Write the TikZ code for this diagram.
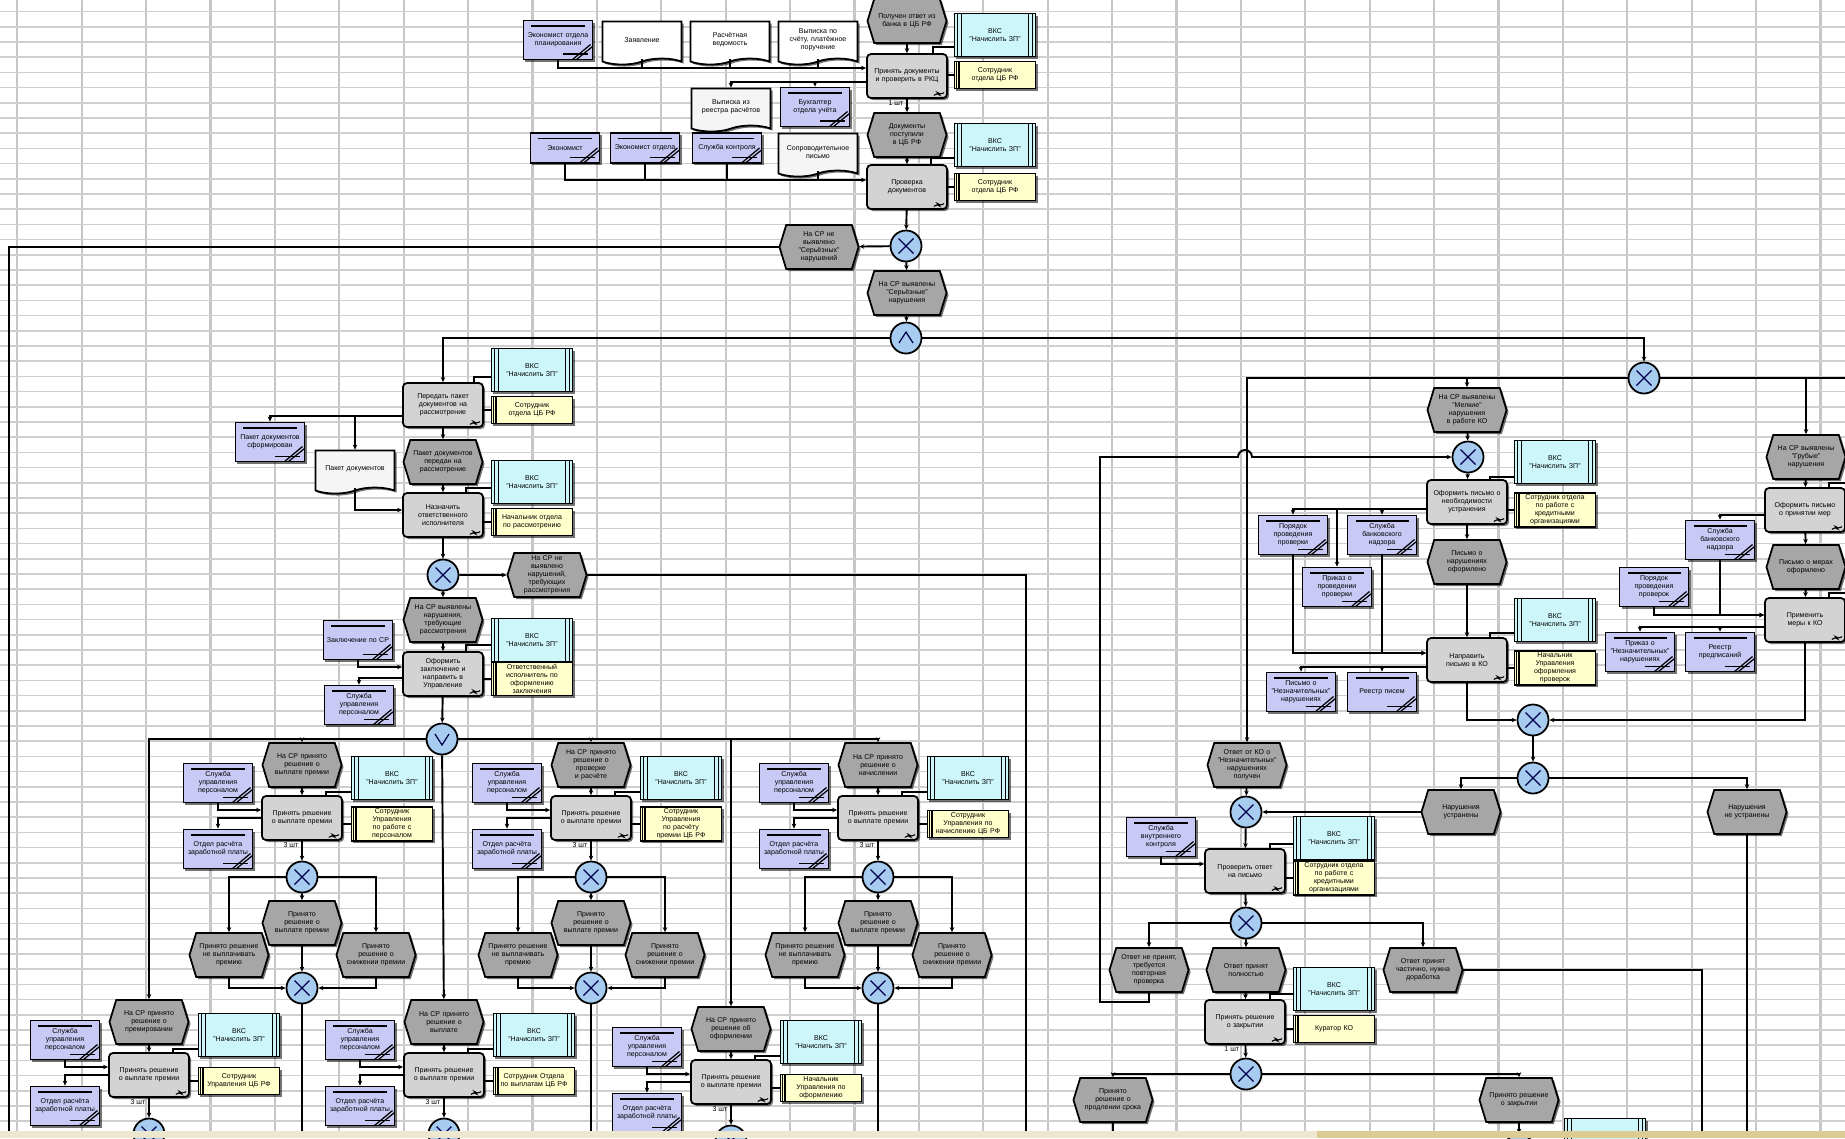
\documentclass[tikz,border=0pt]{standalone}
\usepackage{fontspec}
\setmainfont{Liberation Sans}
\usetikzlibrary{shapes.symbols,arrows.meta,shadows}

\definecolor{evgray}{HTML}{A6A6A6}
\definecolor{fngray}{HTML}{D3D3D3}
\definecolor{syscyan}{HTML}{CCF6FA}
\definecolor{noteyel}{HTML}{FFFFCC}
\definecolor{rolelav}{HTML}{C9C9F5}
\definecolor{gateblue}{HTML}{A8CCF0}
\definecolor{gridgray}{HTML}{C6C6C6}
\definecolor{barlight}{HTML}{EEE7CF}
\definecolor{bartan}{HTML}{DCCB92}
\newcommand{\aristxt}{\fontsize{2}{2.3}\selectfont}

% top half of a decision block: event, function, system, note, two roles, xor
\newcommand{\unittop}[5]{%
  \node[ev] (#1e) at ({#2},{#3+22}) {#4};
  \node[sys] (#1s) at ({#2+90},{#3+35}) {ВКС "Начислить ЗП"};
  \node[fn,label={[cnt]-95:3 шт}] (#1f) at ({#2},{#3+75}) {Принять решение о выплате премии};
  \node[notebox] (#1n) at ({#2+90},{#3+81}) {#5};
  \node[role] (#1p) at ({#2-84},{#3+40}) {Служба управления персоналом};
  \node[role] (#1q) at ({#2-84},{#3+106}) {Отдел расчёта заработной платы};
  \node[xorg] (#1x) at ({#2},{#3+134}) {};
  \draw[conn] (#1e) -- (#1f);
  \draw[ln] ([yshift=-0.14cm]#1s.west) -| ([xshift=-0.17cm]#1f.north east);
  \draw[ln] (#1n.west) -- (#1n.west -| #1f.east);
  \draw[conn] (#1p.south) |- ([yshift=0.08cm]#1f.west);
  \draw[conn] (#1f.west) -| (#1q.north);
  \draw[conn] (#1f) -- (#1x);
}
% full block with the three outcomes
\newcommand{\upperunit}[5]{%
  \unittop{#1}{#2}{#3}{#4}{#5}
  \node[ev] (#1a) at ({#2},{#3+180}) {Принято решение о выплате премии};
  \node[ev] (#1b) at ({#2-73},{#3+212}) {Принято решение не выплачивать премию};
  \node[ev] (#1c) at ({#2+74},{#3+212}) {Принято решение о снижении премии};
  \node[xorg] (#1y) at ({#2},{#3+245}) {};
  \draw[conn] (#1x) -- (#1a);
  \draw[conn] (#1x.west) -| (#1b.north);
  \draw[conn] (#1x.east) -| (#1c.north);
  \draw[conn] (#1a) -- (#1y);
  \draw[conn] (#1b.south) |- (#1y.west);
  \draw[conn] (#1c.south) |- (#1y.east);
  \draw[ln] (#1y.south) -- (#1y.south |- bot);
}

\begin{document}
\begin{tikzpicture}[x=0.01cm,y=-0.01cm,
  vline/.style={gridgray,line width=0.6pt},
  hline/.style={gridgray!85,line width=0.45pt},
  ln/.style={line width=0.55pt},
  conn/.style={ln,-{Stealth[length=0.05cm,width=0.045cm]}},
  objbox/.style={draw,line width=0.5pt,font=\aristxt,align=center,inner sep=0.5pt,
    drop shadow={shadow xshift=0.02cm,shadow yshift=-0.02cm,fill=black,opacity=0.55}},
  ev/.style={objbox,signal,signal to=east and west,signal pointer angle=146,fill=evgray,
    minimum width=0.79cm,minimum height=0.44cm,text width=0.6cm},
  fn/.style={objbox,rectangle,rounded corners=0.04cm,fill=fngray,minimum width=0.8cm,
    minimum height=0.44cm,text width=0.7cm,
    path picture={\draw[line width=0.3pt] ([shift={(-0.13cm,0.025cm)}]path picture bounding box.south east)
      -- ++(0.03cm,0.035cm) -- ++(0.03cm,-0.035cm) -- ++(0.04cm,0.03cm);}},
  sys/.style={objbox,rectangle,fill=syscyan,minimum width=0.81cm,minimum height=0.43cm,text width=0.62cm,
    path picture={\foreach \dx in {0.03cm,0.07cm}{
      \draw[line width=0.35pt] ([xshift=\dx]path picture bounding box.north west) -- ([xshift=\dx]path picture bounding box.south west);
      \draw[line width=0.35pt] ([xshift=-\dx]path picture bounding box.north east) -- ([xshift=-\dx]path picture bounding box.south east);}}},
  notebox/.style={objbox,rectangle,fill=noteyel,minimum width=0.81cm,minimum height=0.27cm,text width=0.7cm,
    path picture={\foreach \dx in {0.02cm,0.045cm}
      \draw[line width=0.35pt] ([xshift=\dx]path picture bounding box.north west) -- ([xshift=\dx]path picture bounding box.south west);}},
  role/.style={objbox,rectangle,fill=rolelav,minimum width=0.69cm,minimum height=0.39cm,text width=0.64cm,
    path picture={
      \draw[line width=0.3pt] ([shift={(0.08cm,-0.055cm)}]path picture bounding box.north west) -- ([shift={(-0.08cm,-0.055cm)}]path picture bounding box.north east);
      \draw[line width=0.3pt] ([shift={(-0.3cm,0.055cm)}]path picture bounding box.south east) -- ([shift={(-0.05cm,0.055cm)}]path picture bounding box.south east);
      \draw[line width=0.35pt] ([shift={(-0.2cm,0cm)}]path picture bounding box.south east) -- ([shift={(-0.02cm,0.15cm)}]path picture bounding box.south east);
      \draw[line width=0.35pt] ([shift={(-0.16cm,0cm)}]path picture bounding box.south east) -- ([shift={(0cm,0.13cm)}]path picture bounding box.south east);}},
  doc/.style={objbox,tape,tape bend top=none,tape bend height=0.06cm,fill=white,
    minimum width=0.79cm,minimum height=0.43cm,text width=0.66cm},
  gate/.style={draw,circle,fill=gateblue,minimum size=0.31cm,inner sep=0pt,line width=0.5pt},
  xorg/.style={gate,path picture={\draw[line width=0.35pt,blue!30!black]
      ([shift={(-0.075cm,-0.075cm)}]path picture bounding box.center) -- ([shift={(0.075cm,0.075cm)}]path picture bounding box.center)
      ([shift={(-0.075cm,0.075cm)}]path picture bounding box.center) -- ([shift={(0.075cm,-0.075cm)}]path picture bounding box.center);}},
  andg/.style={gate,path picture={\draw[line width=0.35pt,blue!30!black]
      ([shift={(-0.07cm,-0.05cm)}]path picture bounding box.center) -- ([shift={(0cm,0.06cm)}]path picture bounding box.center)
      -- ([shift={(0.07cm,-0.05cm)}]path picture bounding box.center);}},
  org/.style={gate,path picture={\draw[line width=0.35pt,blue!30!black]
      ([shift={(-0.07cm,0.05cm)}]path picture bounding box.center) -- ([shift={(0cm,-0.06cm)}]path picture bounding box.center)
      -- ([shift={(0.07cm,0.05cm)}]path picture bounding box.center);}},
  cnt/.style={font=\aristxt,inner sep=0.3pt}]

\clip (0,0) rectangle (1845,1138);
\fill[white] (0,0) rectangle (1845,1138);
% sheet grid
\foreach \i in {0,...,28}
  \draw[vline] ({17.3+64.4*\i},0) -- ({17.3+64.4*\i},1138);
\foreach \j in {0,...,74}
  \draw[hline] (0,{11.6+15.2*\j}) -- (1845,{11.6+15.2*\j});

\coordinate (bot) at (0,1138);
\coordinate (t1) at (0,68);
\coordinate (t2) at (0,82);
\coordinate (t3) at (0,180);
\coordinate (lft) at (9,1138);
\coordinate (bm1) at (1026,1138);
\coordinate (lp) at (1100,1002);
\coordinate (hop) at (1238,457);
\coordinate (redge) at (1846,378);
\coordinate (rs1) at (1846,483);
\coordinate (rs2) at (1846,593);
\coordinate (b3) at (1702,1138);

% top block
\node[ev] (e0) at (907,21) {Получен ответ из банка в ЦБ РФ};
\node[role] (p0) at (558,40) {Экономист отдела планирования};
\node[doc] (d1) at (642,40) {Заявление};
\node[doc] (d2) at (730,40) {Расчётная ведомость};
\node[doc] (d3) at (818,40) {Выписка по счёту, платёжное поручение};
\node[sys] (s0) at (995,35) {ВКС "Начислить ЗП"};
\node[fn,label={[cnt]-95:1 шт}] (f1) at (907,76) {Принять документы и проверить в РКЦ};
\node[notebox] (n1) at (995,75) {Сотрудник отдела ЦБ РФ};
\node[doc,fill=gray!8] (d4) at (731,107) {Выписка из реестра расчётов};
\node[role] (p1) at (815,107) {Бухгалтер отдела учёта};
\node[ev] (e1) at (907,135) {Документы поступили в ЦБ РФ};
\node[sys] (s1) at (995,145) {ВКС "Начислить ЗП"};
\node[fn] (f2) at (907,187) {Проверка документов};
\node[notebox] (n2) at (995,187) {Сотрудник отдела ЦБ РФ};
\node[role,minimum height=0.3cm] (p2) at (565,148) {Экономист};
\node[role,minimum height=0.3cm] (p3) at (645,148) {Экономист отдела};
\node[role,minimum height=0.3cm] (p4) at (727,148) {Служба контроля};
\node[doc,fill=gray!8] (d5) at (818,152) {Сопроводительное письмо};

\draw[conn] (e0) -- (f1);
\draw[conn] (p0.south) |- ([yshift=0.08cm]f1.west);
\draw[ln] (d1.south) -- (d1.south |- t1);
\draw[ln] (d2.south) -- (d2.south |- t1);
\draw[ln] (d3.south) -- (d3.south |- t1);
\draw[ln] ([yshift=-0.12cm]s0.west) -| ([xshift=-0.15cm]f1.north east);
\draw[ln] (n1.west) -- (n1.west -| f1.east);
\draw[conn] ([yshift=-0.06cm]f1.west) -| (d4.north);
\draw[conn] (p1.north |- t2) -- (p1.north);
\draw[conn] (f1) -- (e1);
\draw[conn] (e1) -- (f2);
\draw[ln] ([yshift=-0.13cm]s1.west) -| ([xshift=-0.17cm]f2.north east);
\draw[ln] (n2.west) -- (n2.west -| f2.east);
\draw[conn] (p2.south) |- ([yshift=0.07cm]f2.west);
\draw[ln] (p3.south) -- (p3.south |- t3);
\draw[ln] (p4.south) -- (p4.south |- t3);
\draw[ln] (d5.south) -- (d5.south |- t3);

\node[xorg] (x1) at (906,246) {};
\node[ev] (e2) at (819,247) {На СР не выявлено "Серьёзных" нарушений};
\node[ev] (e3) at (907,293) {На СР выявлены "Серьёзные" нарушения};
\node[andg] (a1) at (906,338) {};
\draw[conn] (f2) -- (x1);
\draw[conn] (x1) -- (e2);
\draw[ln] (e2.west) -| (lft);
\draw[conn] (x1) -- (e3);
\draw[conn] (e3) -- (a1);

% left column
\node[fn] (f3) at (443,405) {Передать пакет документов на рассмотрение};
\node[sys] (s3) at (532,370) {ВКС "Начислить ЗП"};
\node[notebox] (n3) at (532,410) {Сотрудник отдела ЦБ РФ};
\node[role] (p6) at (270,442) {Пакет документов сформирован};
\node[doc,fill=gray!8] (d6) at (355,469) {Пакет документов};
\node[ev] (e4) at (443,462) {Пакет документов передан на рассмотрение};
\node[sys] (s4) at (532,482) {ВКС "Начислить ЗП"};
\node[fn] (f4) at (443,515) {Назначить ответственного исполнителя};
\node[notebox] (n4) at (532,522) {Начальник отдела по рассмотрению};
\node[xorg] (x2) at (443,575) {};
\node[ev] (e5) at (547,575) {На СР не выявлено нарушений, требующих рассмотрения};
\node[ev] (e6) at (443,620) {На СР выявлены нарушения, требующие рассмотрения};
\node[role] (p7) at (358,640) {Заключение по СР};
\node[sys] (s5) at (532,640) {ВКС "Начислить ЗП"};
\node[fn] (f5) at (443,674) {Оформить заключение и направить в Управление};
\node[notebox] (n5) at (532,679) {Ответственный исполнитель по оформлению заключения};
\node[role] (p8) at (359,705) {Служба управления персоналом};
\node[org] (or1) at (442,739) {};

\draw[conn] (a1.west) -| (f3.north);
\draw[ln] ([yshift=-0.07cm]s3.west) -| ([xshift=-0.1cm]f3.north east);
\draw[ln] (n3.west) -- (n3.west -| f3.east);
\draw[conn] ([yshift=-0.11cm]f3.west) -| (p6.north);
\draw[conn] ([yshift=-0.11cm]f3.west) -| (d6.north);
\draw[conn] (f3) -- (e4);
\draw[conn] (e4) -- (f4);
\draw[ln] ([yshift=-0.06cm]s4.west) -| ([xshift=-0.18cm]f4.north east);
\draw[ln] (n4.west) -- (n4.west -| f4.east);
\draw[conn] (d6.south) |- ([yshift=0.05cm]f4.west);
\draw[conn] (f4) -- (x2);
\draw[conn] (x2) -- (e5);
\draw[ln] (e5.east) -| (bm1);
\draw[conn] (x2) -- (e6);
\draw[conn] (e6) -- (f5);
\draw[ln] ([yshift=-0.05cm]s5.west) -| ([xshift=-0.18cm]f5.north east);
\draw[ln] (n5.west) -- (n5.west -| f5.east);
\draw[conn] (p7.south) |- ([yshift=0.07cm]f5.west);
\draw[conn] ([yshift=-0.04cm]f5.west) -| (p8.north);
\draw[conn] (f5) -- (or1);

% decision blocks
\upperunit{u1}{302}{743}{На СР принято решение о выплате премии}{Сотрудник Управления по работе с персоналом}
\upperunit{u2}{591}{743}{На СР принято решение о проверке и расчёте}{Сотрудник Управления по расчёту премии ЦБ РФ}
\upperunit{u3}{878}{743}{На СР принято решение о начислении}{Сотрудник Управления по начислению ЦБ РФ}
\unittop{u4}{149}{1000}{На СР принято решение о премировании}{Сотрудник Управления ЦБ РФ}
\unittop{u5}{444}{1000}{На СР принято решение о выплате}{Сотрудник Отдела по выплатам ЦБ РФ}
\unittop{u6}{731}{1007}{На СР принято решение об оформлении}{Начальник Управления по оформлению}

\draw[conn] (or1.west) -| (u4e.north);
\draw[conn] (or1.west) -| (u1e.north);
\draw[conn] (or1) -- (u5e);
\draw[conn] (or1.east) -| (u2e.north);
\draw[conn] (or1.east) -| (u6e.north);
\draw[conn] (or1.east) -| (u3e.north);

% right part
\node[xorg] (xR1) at (1644,378) {};
\draw[conn] (a1.east) -| (xR1.north);
\node[ev] (rB) at (1467,410) {На СР выявлены "Мелкие" нарушения в работе КО};
\node[xorg] (xB) at (1468,457) {};
\node[sys] (sB) at (1555,462) {ВКС "Начислить ЗП"};
\node[fn] (fB) at (1467,502) {Оформить письмо о необходимости устранения};
\node[notebox] (nB) at (1555,510) {Сотрудник отдела по работе с кредитными организациями};
\node[role] (pB1) at (1293,535) {Порядок проведения проверки};
\node[role] (pB2) at (1382,535) {Служба банковского надзора};
\node[role] (pB3) at (1337,587) {Приказ о проведении проверки};
\node[ev] (eB2) at (1467,562) {Письмо о нарушениях оформлено};
\node[sys] (sB2) at (1555,620) {ВКС "Начислить ЗП"};
\node[fn] (fB2) at (1467,660) {Направить письмо в КО};
\node[notebox] (nB2) at (1555,668) {Начальник Управления оформления проверок};
\node[role] (pB4) at (1301,692) {Письмо о "Незначительных" нарушениях};
\node[role] (pB5) at (1382,692) {Реестр писем};
\node[xorg] (xJ) at (1533,720) {};
\node[xorg] (xK) at (1533,778) {};
\node[ev] (eK1) at (1461,812) {Нарушения устранены};
\node[ev] (eK2) at (1747,812) {Нарушения не устранены};

\draw[conn] (xR1.west) -| (rB.north);
\draw[conn] (rB) -- (xB);
\draw[conn] (xB) -- (fB);
\draw[ln] ([yshift=-0.15cm]sB.west) -| ([xshift=-0.18cm]fB.north east);
\draw[ln] (nB.west) -- (nB.west -| fB.east);
\draw[conn] ([yshift=-0.07cm]fB.west) -| (pB1.north);
\draw[conn] ([yshift=-0.07cm]fB.west) -| (pB3.north);
\draw[conn] ([yshift=-0.07cm]fB.west) -| (pB2.north);
\draw[conn] (fB) -- (eB2);
\draw[conn] (eB2) -- (fB2);
\draw[ln] ([yshift=-0.13cm]sB2.west) -| ([xshift=-0.18cm]fB2.north east);
\draw[ln] (nB2.west) -- (nB2.west -| fB2.east);
\draw[conn] (pB1.south) |- ([yshift=0.07cm]fB2.west);
\draw[conn] (pB2.south) |- ([yshift=0.07cm]fB2.west);
\draw[conn] ([yshift=-0.07cm]fB2.west) -| (pB4.north);
\draw[conn] ([yshift=-0.07cm]fB2.west) -| (pB5.north);
\draw[conn] (fB2.south) |- (xJ.west);
\draw[conn] (xJ) -- (xK);
\draw[conn] (xK.west) -| (eK1.north);
\draw[conn] (xK.east) -| (eK2.north);
\draw[ln] (eK2.south) -- (eK2.south |- bot);

\node[ev] (rA) at (1247,765) {Ответ от КО о "Незначительных" нарушениях получен};
\node[xorg] (xF) at (1246,812) {};
\node[role] (pF) at (1161,837) {Служба внутреннего контроля};
\node[sys] (sF) at (1334,838) {ВКС "Начислить ЗП"};
\node[fn] (fG) at (1245,871) {Проверить ответ на письмо};
\node[notebox] (nG) at (1334,878) {Сотрудник отдела по работе с кредитными организациями};
\node[xorg] (xH) at (1246,923) {};
\node[ev] (eH1) at (1149,970) {Ответ не принят, требуется повторная проверка};
\node[ev] (eH2) at (1246,970) {Ответ принят полностью};
\node[ev] (eH3) at (1423,970) {Ответ принят частично, нужна доработка};
\node[sys] (sI) at (1334,989) {ВКС "Начислить ЗП"};
\node[fn,label={[cnt]-100:1 шт}] (fI) at (1245,1022) {Принять решение о закрытии};
\node[notebox] (nI) at (1334,1029) {Куратор КО};
\node[xorg] (xJ2) at (1246,1074) {};
\node[ev] (eJ1) at (1113,1100) {Принято решение о продлении срока};
\node[ev] (eJ2) at (1519,1100) {Принято решение о закрытии};
\node[sys] (sJ) at (1605,1140) {};
\node[xorg] (xJ3) at (1519,1150) {};

\draw[conn] (xR1.west) -| (rA.north);
\draw[conn] (rA) -- (xF);
\draw[conn] (eK1.west) -- (xF.east);
\draw[conn] (xF) -- (fG);
\draw[conn] (pF.south) |- ([yshift=0.07cm]fG.west);
\draw[ln] ([yshift=-0.06cm]sF.west) -| ([xshift=-0.16cm]fG.north east);
\draw[ln] (nG.west) -- (nG.west -| fG.east);
\draw[conn] (fG) -- (xH);
\draw[conn] (xH.west) -| (eH1.north);
\draw[conn] (xH) -- (eH2);
\draw[conn] (xH.east) -| (eH3.north);
\draw[ln] (eH3.east) -| (b3);
\draw[conn] (eH1.south) |- (lp) |- (hop) arc (180:360:7) -- (xB.west);
\draw[conn] (eH2) -- (fI);
\draw[ln] ([yshift=-0.05cm]sI.west) -| ([xshift=-0.16cm]fI.north east);
\draw[ln] (nI.west) -- (nI.west -| fI.east);
\draw[conn] (fI) -- (xJ2);
\draw[conn] (xJ2.west) -| (eJ1.north);
\draw[conn] (xJ2.east) -| (eJ2.north);
\draw[ln] (eJ1.south) -- (eJ1.south |- bot);
\draw[conn] (eJ2) -- (xJ3);

% right column
\node[ev] (rC) at (1806,457) {На СР выявлены "Грубые" нарушения};
\node[fn] (fC) at (1805,510) {Оформить письмо о принятии мер};
\node[role] (pC1) at (1720,540) {Служба банковского надзора};
\node[ev] (eC2) at (1806,567) {Письмо о мерах оформлено};
\node[fn] (fC2) at (1805,620) {Применить меры к КО};
\node[role] (pC2) at (1654,587) {Порядок проведения проверок};
\node[role] (pC3) at (1640,652) {Приказ о "Незначительных" нарушениях};
\node[role] (pC4) at (1720,652) {Реестр предписаний};

\draw[ln] (xR1.east) -- (redge);
\draw[conn] (xR1.east) -| (rC.north);
\draw[conn] (rC) -- (fC);
\draw[ln] ([xshift=-0.17cm]fC.north east) |- (rs1);
\draw[conn] ([yshift=-0.05cm]fC.west) -| (pC1.north);
\draw[conn] (fC) -- (eC2);
\draw[conn] (eC2) -- (fC2);
\draw[ln] ([xshift=-0.17cm]fC2.north east) |- (rs2);
\draw[conn] (pC1.south) |- ([yshift=0.05cm]fC2.west);
\draw[conn] (pC2.south) |- ([yshift=0.05cm]fC2.west);
\draw[conn] ([yshift=-0.07cm]fC2.west) -| (pC3.north);
\draw[conn] ([yshift=-0.07cm]fC2.west) -| (pC4.north);
\draw[conn] (fC2.south) |- (xJ.east);

% status strip
\fill[barlight] (0,1131) rectangle (1317,1138);
\fill[bartan] (1317,1131) rectangle (1845,1138);
\end{tikzpicture}
\end{document}
